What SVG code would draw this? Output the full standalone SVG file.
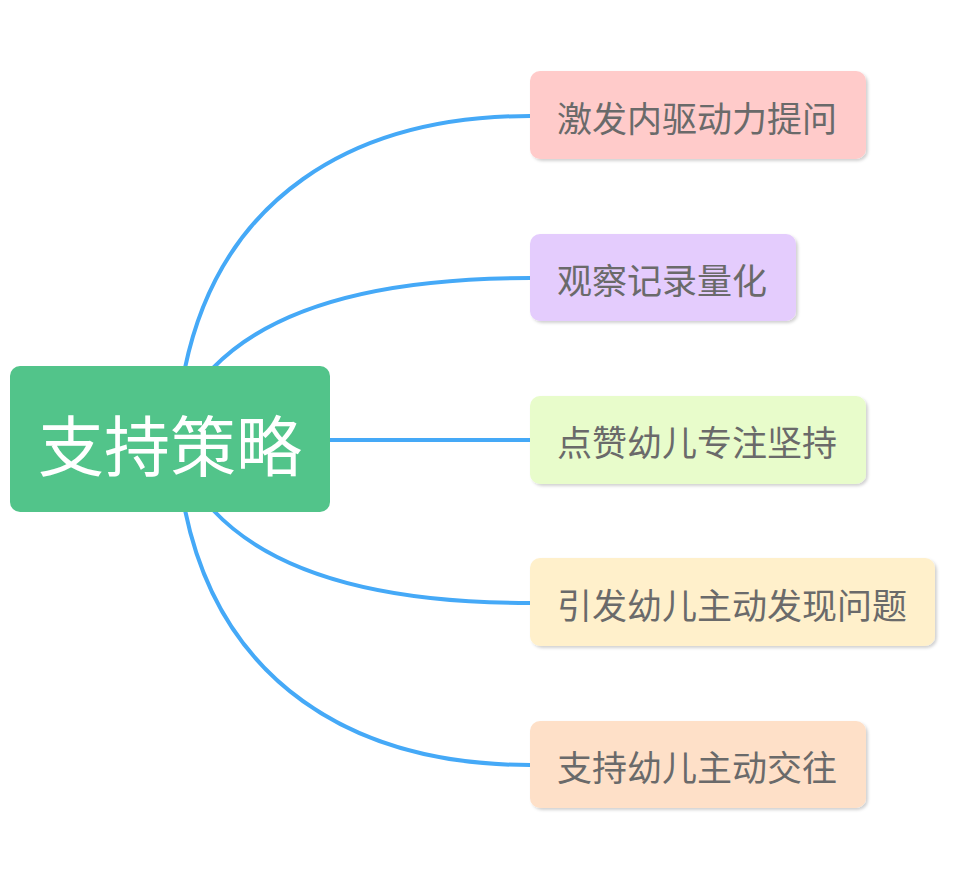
<svg xmlns="http://www.w3.org/2000/svg" width="968" height="876" viewBox="0 0 968 876">
<defs>
<filter id="sh" x="-10%" y="-20%" width="130%" height="150%">
<feDropShadow dx="2" dy="2" stdDeviation="1.5" flood-color="#000" flood-opacity="0.18"/>
</filter>
<style>
.c{fill:none;stroke:#45a9f7;stroke-width:4;stroke-linecap:round}
.t{font-family:"Noto Sans CJK SC","Noto Sans",sans-serif;font-size:35px;fill:#6a6a6a;dominant-baseline:central}
.r{font-family:"Noto Sans CJK SC","Noto Sans",sans-serif;font-size:66px;fill:#ffffff;dominant-baseline:central;text-anchor:middle}
</style>
</defs>
<rect width="968" height="876" fill="#ffffff"/>
<g id="connectors">
<path class="c" d="M185,368 C220,200 350,116 530,116"/>
<path class="c" d="M213,368 Q300,278 530,278"/>
<path class="c" d="M330,440 L530,440"/>
<path class="c" d="M213,510 Q300,603 530,603"/>
<path class="c" d="M185,510 C220,680 350,765 530,765"/>
</g>
<g id="root">
<rect x="10" y="366" width="320" height="146" rx="10" fill="#52c48a"/>
<text class="r" x="170" y="442">支持策略</text>
</g>
<g id="n1">
<rect x="530" y="71" width="336" height="88" rx="10" fill="#ffcbca" filter="url(#sh)"/>
<text class="t" x="557" y="116">激发内驱动力提问</text>
</g>
<g id="n2">
<rect x="530" y="234" width="266" height="87" rx="10" fill="#e4ccfd" filter="url(#sh)"/>
<text class="t" x="557" y="278">观察记录量化</text>
</g>
<g id="n3">
<rect x="530" y="396" width="336" height="88" rx="10" fill="#e8fccb" filter="url(#sh)"/>
<text class="t" x="557" y="440">点赞幼儿专注坚持</text>
</g>
<g id="n4">
<rect x="530" y="558" width="405" height="88" rx="10" fill="#fff0cb" filter="url(#sh)"/>
<text class="t" x="557" y="603">引发幼儿主动发现问题</text>
</g>
<g id="n5">
<rect x="530" y="721" width="336" height="87" rx="10" fill="#fee0c8" filter="url(#sh)"/>
<text class="t" x="557" y="765">支持幼儿主动交往</text>
</g>
</svg>
